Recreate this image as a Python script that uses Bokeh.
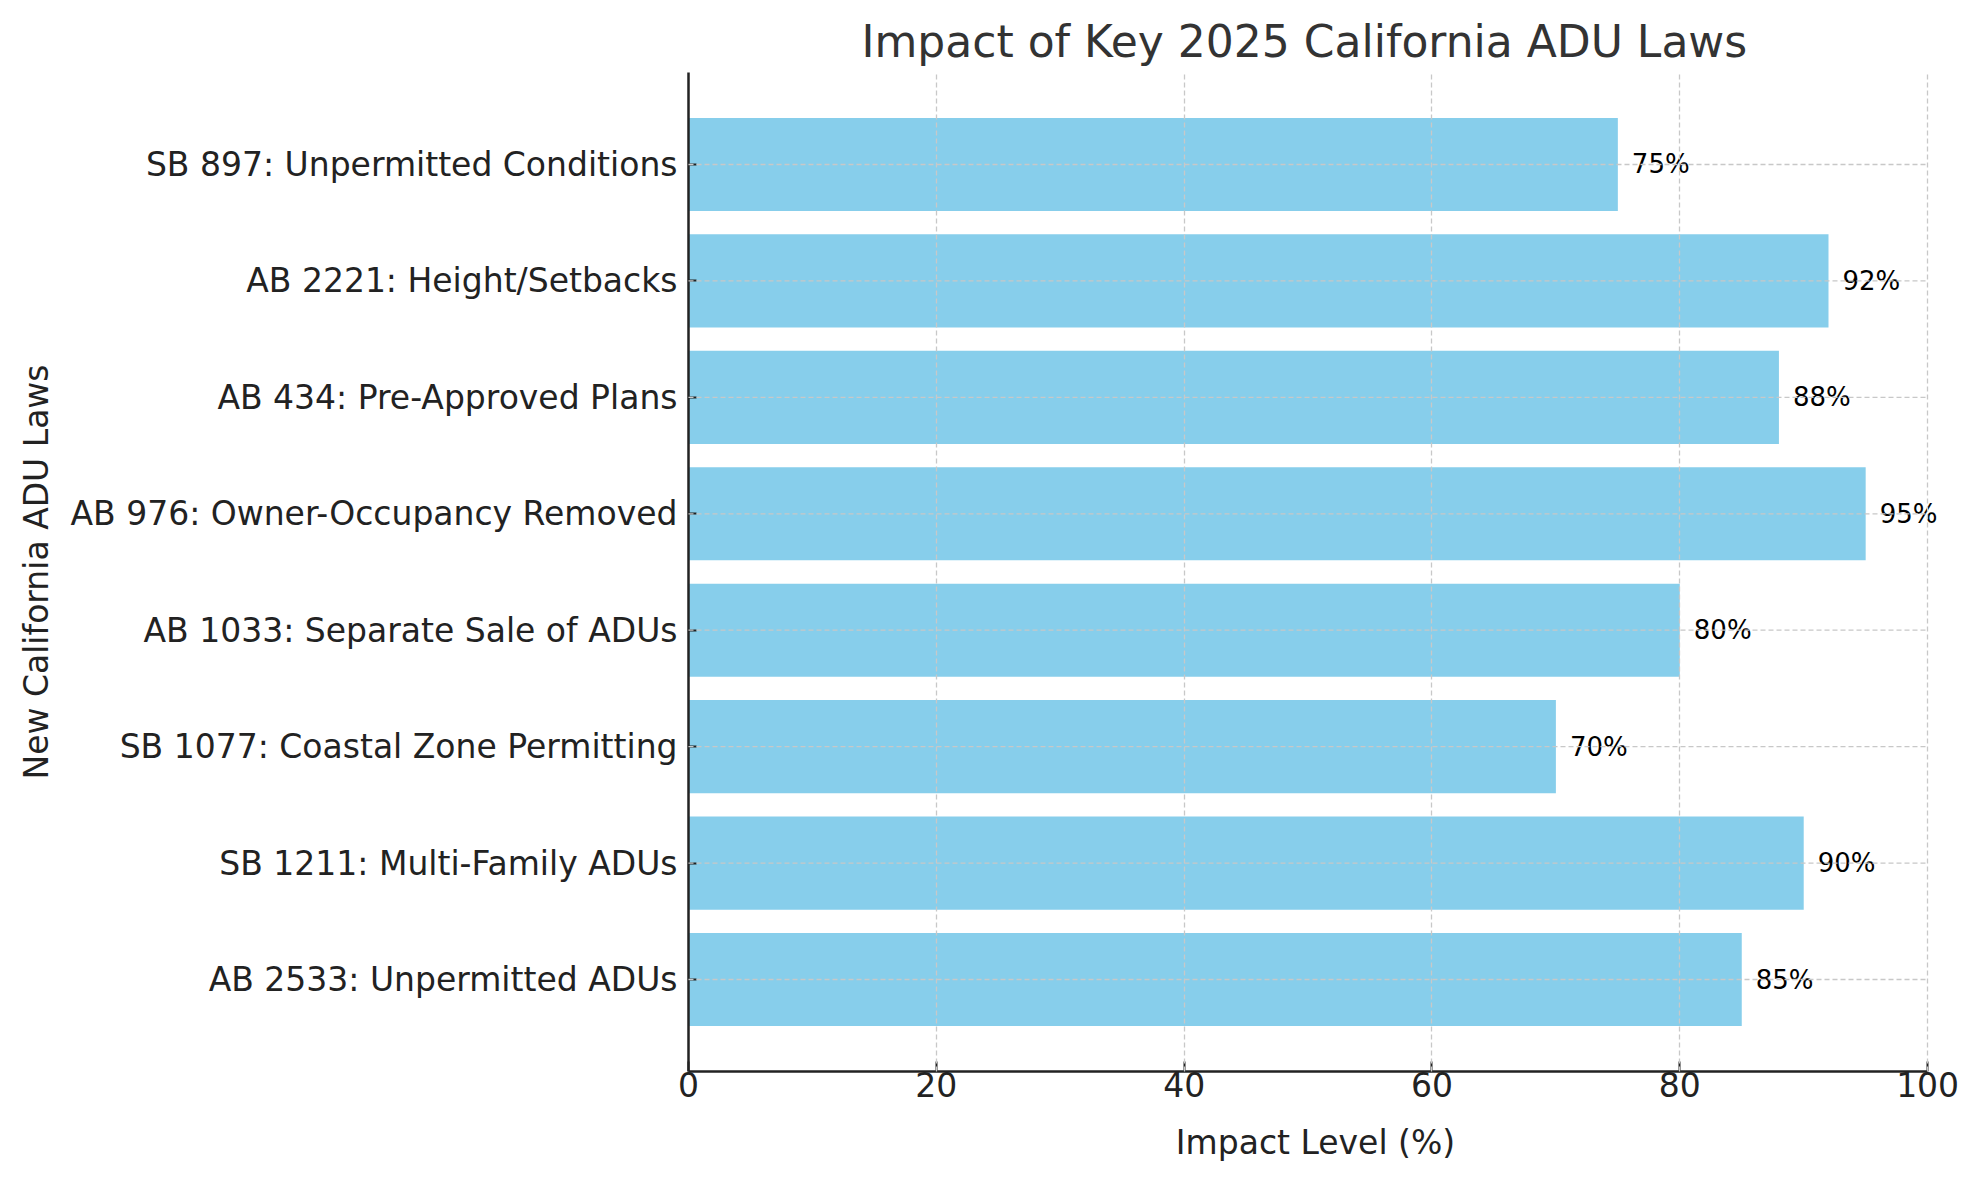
from bokeh.plotting import figure
from bokeh.models import ColumnDataSource, LabelSet, FactorRange, Range1d, FixedTicker
from bokeh.core.properties import value
from bokeh.embed import file_html
from bokeh.resources import INLINE

laws = [
    "AB 2533: Unpermitted ADUs",
    "SB 1211: Multi-Family ADUs",
    "SB 1077: Coastal Zone Permitting",
    "AB 1033: Separate Sale of ADUs",
    "AB 976: Owner-Occupancy Removed",
    "AB 434: Pre-Approved Plans",
    "AB 2221: Height/Setbacks",
    "SB 897: Unpermitted Conditions",
]
impact = [85, 90, 70, 80, 95, 88, 92, 75]
x_ticks = [0, 20, 40, 60, 80, 100]

labels = [f"{v}%" for v in impact]
src = ColumnDataSource(dict(law=laws, impact=impact, label=labels))
grid_src = ColumnDataSource(dict(law=laws,
                                 x0=[x_ticks[0]] * len(laws),
                                 x1=[x_ticks[-1]] * len(laws)))

FONT = "DejaVu Sans"

# frame extends slightly past 100 so the value labels are not clipped;
# the axis itself is bounded to 0..100
p = figure(
    width=1963, height=1164,
    y_range=FactorRange(factors=laws, range_padding=0.29, range_padding_units="absolute"),
    x_range=Range1d(x_ticks[0], x_ticks[-1] * 1.012),
    output_backend="svg", toolbar_location=None,
    min_border_left=688, min_border_right=21, min_border_top=72, min_border_bottom=93,
    title="Impact of Key 2025 California ADU Laws",
)
p.title.align = "left"
p.title.offset = 173
p.title.text_font = FONT
p.title.text_font_size = "44px"
p.title.text_font_style = "normal"
p.title.text_color = "#333333"
p.title.standoff = 12

p.outline_line_color = None
p.background_fill_color = "white"

p.hbar(y="law", right="impact", left=0, height=0.8, source=src,
       fill_color="#87CEEB", line_color=None)

# horizontal grid lines (drawn over the bars, limited to the axis span)
p.segment(x0="x0", x1="x1", y0="law", y1="law", source=grid_src,
          line_color="#c8c8c8", line_dash="5 3", line_width=1.3, level="overlay")

lbl = LabelSet(x="impact", y="law", text="label", source=src,
               x_offset=14, text_align="left", text_baseline="middle",
               text_font=value(FONT), text_font_size=value("26px"), text_color="black")
p.add_layout(lbl)

for ax in (p.xaxis, p.yaxis):
    ax.axis_line_color = "#222222"
    ax.axis_line_width = 2.5
    ax.major_tick_line_color = "#222222"
    ax.major_tick_line_width = 2
    ax.major_tick_in = 10
    ax.major_tick_out = 0
    ax.minor_tick_line_color = None
    ax.major_label_text_font = FONT
    ax.major_label_text_font_size = "33px"
    ax.major_label_text_color = "#222222"
    ax.axis_label_text_font = FONT
    ax.axis_label_text_font_size = "33px"
    ax.axis_label_text_font_style = "normal"
    ax.axis_label_text_color = "#222222"

p.yaxis.major_tick_in = 8
p.xaxis.ticker = FixedTicker(ticks=x_ticks)
p.xaxis.bounds = (x_ticks[0], x_ticks[-1])
p.xaxis.axis_label = "Impact Level (%)"
p.yaxis.axis_label = "New California ADU Laws"
p.xaxis.major_label_standoff = 0
p.yaxis.major_label_standoff = 11
p.xaxis.axis_label_standoff = 23
p.yaxis.axis_label_standoff = 11

p.ygrid.grid_line_color = None
p.xgrid.grid_line_color = "#c8c8c8"
p.xgrid.grid_line_dash = "5 3"
p.xgrid.grid_line_width = 1.3
p.xgrid.level = "overlay"

open("out.html", "w").write(file_html(p, INLINE))
